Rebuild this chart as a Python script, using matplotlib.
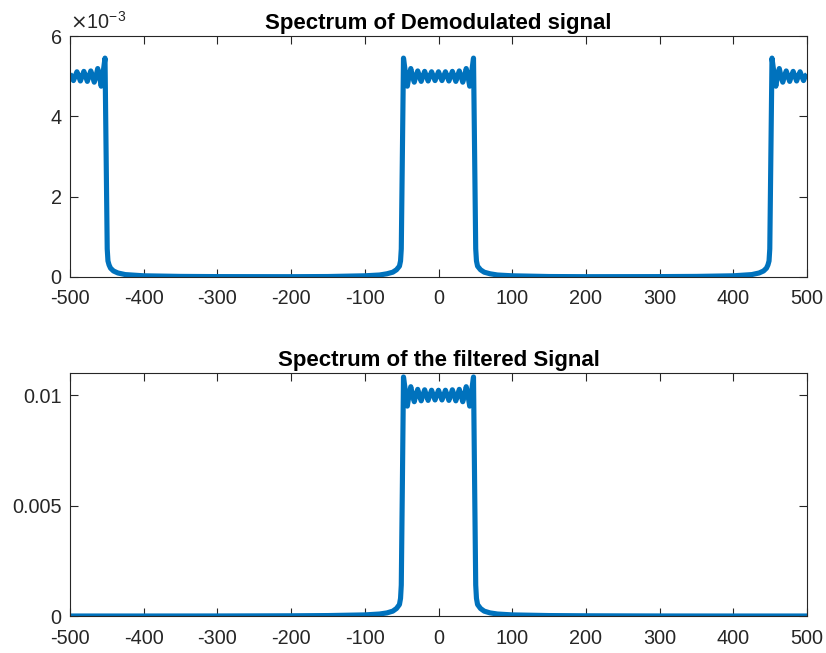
import numpy as np
import matplotlib
matplotlib.use("Agg")
import matplotlib.pyplot as plt

plt.rcParams["font.family"] = ["Liberation Sans", "DejaVu Sans"]
plt.rcParams["axes.unicode_minus"] = False

# ---- Spectrum of the demodulated signal (magnitude in units of 1e-3) ----
freq_demod = [
    -500.0, -497.6, -495.3, -492.9, -490.6, -488.2, -485.9, -483.5, -481.2, -478.8,
    -476.5, -474.1, -471.8, -469.4, -467.1, -464.7, -462.4, -460.0, -457.7, -455.0,
    -452.5, -451.0, -449.5, -448.5, -447.0, -445.0, -441.0, -435.0, -425.0, -400.0,
    -350.0, -300.0, -250.0, -200.0, -150.0, -100.0, -80.0, -70.0, -62.0, -57.0,
    -53.0, -51.5, -50.5, -49.0, -47.5, -45.0, -42.3, -40.0, -37.6, -35.3,
    -32.9, -30.6, -28.2, -25.9, -23.5, -21.2, -18.8, -16.5, -14.1, -11.8,
    -9.4, -7.1, -4.7, -2.4, 0.0, 2.4, 4.7, 7.1, 9.4, 11.8,
    14.1, 16.5, 18.8, 21.2, 23.5, 25.9, 28.2, 30.6, 32.9, 35.3,
    37.6, 40.0, 42.3, 45.0, 47.5, 49.0, 50.5, 51.5, 53.0, 57.0,
    62.0, 70.0, 80.0, 100.0, 150.0, 200.0, 250.0, 300.0, 350.0, 400.0,
    425.0, 435.0, 441.0, 445.0, 447.0, 448.5, 449.5, 451.0, 452.5, 455.0,
    457.7, 460.0, 462.4, 464.7, 467.1, 469.4, 471.8, 474.1, 476.5, 478.8,
    481.2, 483.5, 485.9, 488.2, 490.6, 492.9, 495.3, 497.6, 500.0,
]
mag_demod_e3 = [
    5.05, 5.00, 4.89, 5.00, 5.11, 5.00, 4.88, 5.00, 5.12, 5.00,
    4.87, 5.00, 5.13, 5.00, 4.85, 5.00, 5.19, 5.00, 4.75, 5.10,
    5.45, 3.00, 0.70, 0.40, 0.30, 0.22, 0.15, 0.10, 0.06, 0.03,
    0.015, 0.01, 0.008, 0.008, 0.012, 0.03, 0.05, 0.08, 0.12, 0.18,
    0.27, 0.40, 0.70, 3.00, 5.45, 5.10, 4.75, 5.00, 5.19, 5.00,
    4.85, 5.00, 5.13, 5.00, 4.87, 5.00, 5.12, 5.00, 4.88, 5.00,
    5.11, 5.00, 4.89, 5.00, 5.11, 5.00, 4.89, 5.00, 5.11, 5.00,
    4.88, 5.00, 5.12, 5.00, 4.87, 5.00, 5.13, 5.00, 4.85, 5.00,
    5.19, 5.00, 4.75, 5.10, 5.45, 3.00, 0.70, 0.40, 0.27, 0.18,
    0.12, 0.08, 0.05, 0.03, 0.012, 0.008, 0.008, 0.01, 0.015, 0.03,
    0.06, 0.10, 0.15, 0.22, 0.30, 0.40, 0.70, 3.00, 5.45, 5.10,
    4.75, 5.00, 5.19, 5.00, 4.85, 5.00, 5.13, 5.00, 4.87, 5.00,
    5.12, 5.00, 4.88, 5.00, 5.11, 5.00, 4.89, 5.00, 5.05,
]

# ---- Spectrum of the low-pass filtered signal (magnitude in units of 1e-3) ----
freq_filt = [
    -500.0, -400.0, -300.0, -200.0, -150.0, -100.0, -80.0, -70.0, -62.0, -57.0,
    -53.0, -51.5, -50.5, -49.0, -47.5, -45.0, -42.3, -40.0, -37.6, -35.3,
    -32.9, -30.6, -28.2, -25.9, -23.5, -21.2, -18.8, -16.5, -14.1, -11.8,
    -9.4, -7.1, -4.7, -2.4, 0.0, 2.4, 4.7, 7.1, 9.4, 11.8,
    14.1, 16.5, 18.8, 21.2, 23.5, 25.9, 28.2, 30.6, 32.9, 35.3,
    37.6, 40.0, 42.3, 45.0, 47.5, 49.0, 50.5, 51.5, 53.0, 57.0,
    62.0, 70.0, 80.0, 100.0, 150.0, 200.0, 300.0, 400.0, 500.0,
]
mag_filt_e3 = [
    0.0, 0.0, 0.002, 0.01, 0.02, 0.05, 0.09, 0.14, 0.22, 0.34,
    0.52, 0.80, 1.40, 6.00, 10.82, 10.20, 9.50, 10.00, 10.38, 10.00,
    9.70, 10.00, 10.26, 10.00, 9.74, 10.00, 10.24, 10.00, 9.76, 10.00,
    10.22, 10.00, 9.78, 10.00, 10.22, 10.00, 9.78, 10.00, 10.22, 10.00,
    9.76, 10.00, 10.24, 10.00, 9.74, 10.00, 10.26, 10.00, 9.70, 10.00,
    10.38, 10.00, 9.50, 10.20, 10.82, 6.00, 1.40, 0.80, 0.52, 0.34,
    0.22, 0.14, 0.09, 0.05, 0.02, 0.01, 0.002, 0.0, 0.0,
]

x_ticks = [-500, -400, -300, -200, -100, 0, 100, 200, 300, 400, 500]
demod_yticks_e3 = [0, 2, 4, 6]
filt_yticks = [0, 0.005, 0.01]

LINE_COLOR = "#0072BD"
AX_COLOR = "#262626"
FS = 14.3

fig = plt.figure(figsize=(8.26, 6.53), dpi=100)
W, H = 826, 653


def make_axes(left, top, right, bottom):
    return fig.add_axes([left / W, 1 - bottom / H, (right - left) / W, (bottom - top) / H])


def style(ax):
    for sp in ax.spines.values():
        sp.set_color(AX_COLOR)
        sp.set_linewidth(0.8)
    ax.tick_params(direction="in", length=5.5, width=0.8, colors=AX_COLOR,
                   labelsize=FS, top=True, right=True, pad=6)
    ax.tick_params(axis="x", pad=9)
    for lab in ax.get_xticklabels() + ax.get_yticklabels():
        lab.set_color(AX_COLOR)


# Top: demodulated spectrum
ax1 = make_axes(70, 36, 807, 277)
ax1.plot(freq_demod, np.array(mag_demod_e3) * 1e-3, color=LINE_COLOR, lw=3.7,
         solid_joinstyle="round", solid_capstyle="butt")
ax1.set_xlim(-500, 500)
ax1.set_ylim(0, 6e-3)
ax1.set_xticks(x_ticks)
ax1.set_xticklabels([str(t) for t in x_ticks])
ax1.set_yticks([v * 1e-3 for v in demod_yticks_e3])
ax1.set_yticklabels([str(v) for v in demod_yticks_e3])
style(ax1)
ax1.set_title("Spectrum of Demodulated signal", fontsize=16, fontweight="bold",
              color="black", pad=5)
ax1.text(0.0, 1.012, r"$\times$10$^{\mathregular{-3}}$", transform=ax1.transAxes,
         fontsize=FS, color=AX_COLOR, ha="left", va="bottom")

# Bottom: filtered spectrum
ax2 = make_axes(70, 373, 807, 616)
ax2.plot(freq_filt, np.array(mag_filt_e3) * 1e-3, color=LINE_COLOR, lw=3.7,
         solid_joinstyle="round", solid_capstyle="butt")
ax2.set_xlim(-500, 500)
ax2.set_ylim(0, 0.011)
ax2.set_xticks(x_ticks)
ax2.set_xticklabels([str(t) for t in x_ticks])
ax2.set_yticks(filt_yticks)
ax2.set_yticklabels(["0", "0.005", "0.01"])
style(ax2)
ax2.set_title("Spectrum of the filtered Signal", fontsize=16, fontweight="bold",
              color="black", pad=5)

fig.savefig("out.png", dpi=100)
